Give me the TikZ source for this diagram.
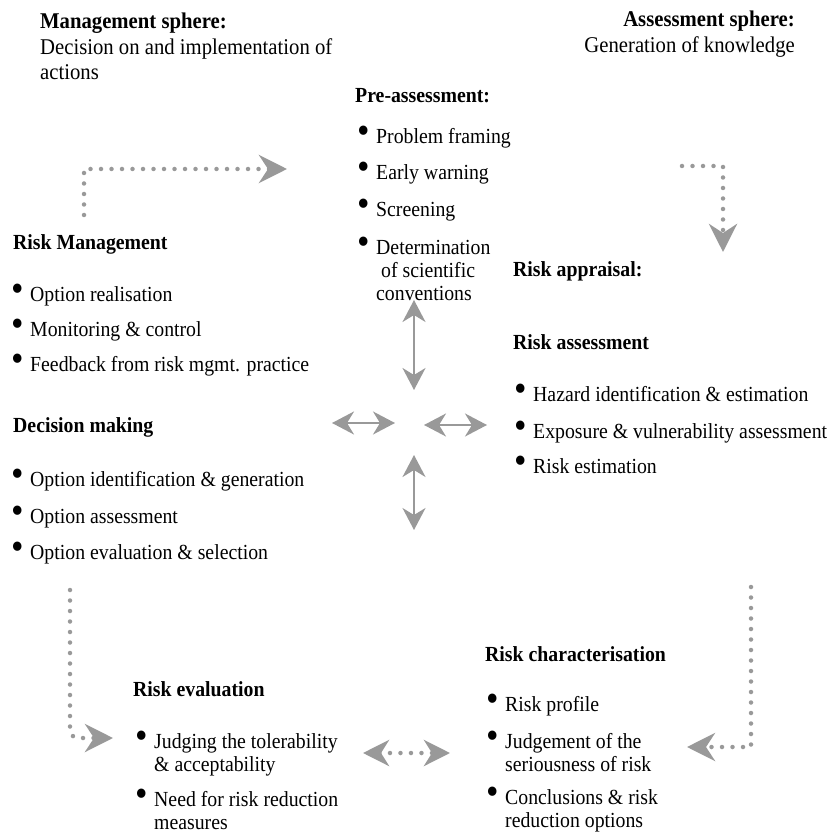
\documentclass[tikz,border=0pt]{standalone}
\usepackage{fontspec}
\setmainfont{Liberation Serif}[FakeStretch=0.92]
\usetikzlibrary{arrows.meta}

\definecolor{arrowgray}{HTML}{999999}
\newcommand{\bul}{\makebox[19pt][l]{\scalebox{1.8}{\textbullet}}}
\newcommand{\lines}[1]{\begin{tabular}[t]{@{}l@{}}#1\end{tabular}}
\newcommand{\rlines}[1]{\begin{tabular}[t]{@{}r@{}}#1\end{tabular}}

\begin{document}
\begin{tikzpicture}[
    x=1pt, y=-1pt,
    txt/.style={anchor=base west, inner sep=0pt, font=\fontsize{21.5}{23}\selectfont},
    title/.style={txt, font=\fontsize{21.5}{23}\selectfont\bfseries},
    sphere/.style={anchor=base west, inner sep=0pt, font=\fontsize{22.5}{25.5}\selectfont},
    itm/.style={txt},
    flow/.style={draw=arrowgray, line width=4.5pt, line cap=round, dash pattern=on 0pt off 10.5pt,
        -{Stealth[length=28pt, width=28pt, inset=9pt, arrowgray]}},
    flowboth/.style={flow, {Stealth[length=26pt, width=26pt, inset=8pt, arrowgray]}-{Stealth[length=26pt, width=26pt, inset=8pt, arrowgray]}},
    link/.style={draw=arrowgray, line width=2pt,
        {Stealth[length=22pt, width=23pt, inset=7pt, arrowgray]}-{Stealth[length=22pt, width=23pt, inset=7pt, arrowgray]}}
]
\useasboundingbox (0,0) rectangle (830,834);

% Spheres
\node[sphere] (mgmt) at (40,29)
    {\lines{\textbf{Management sphere:}\\Decision on and implementation of\\actions}};
\node[sphere, anchor=base east] (assess) at (795,27)
    {\rlines{\textbf{Assessment sphere:}\\Generation of knowledge}};

% Pre-assessment
\node[title] (pre) at (355,103) {Pre-assessment:};
\node[itm] (pre1) at (357,144) {\bul Problem framing};
\node[itm] (pre2) at (357,180) {\bul Early warning};
\node[itm] (pre3) at (357,217) {\bul Screening};
\node[itm] (pre4) at (357,254) {\bul\lines{Determination\\\ of scientific\\conventions}};

% Risk management
\node[title] (rm) at (13,249) {Risk Management};
\node[itm] (rm1) at (11,301) {\bul Option realisation};
\node[itm] (rm2) at (11,336) {\bul Monitoring \& control};
\node[itm] (rm3) at (11,371) {\bul Feedback from risk mgmt. practice};

% Decision making
\node[title] (dm) at (13,432) {Decision making};
\node[itm] (dm1) at (11,486) {\bul Option identification \& generation};
\node[itm] (dm2) at (11,523) {\bul Option assessment};
\node[itm] (dm3) at (11,559) {\bul Option evaluation \& selection};

% Risk appraisal
\node[title] (ra) at (513,276) {Risk appraisal:};
\node[title] (rass) at (513,349) {Risk assessment};
\node[itm] (ra1) at (514,401) {\bul Hazard identification \& estimation};
\node[itm] (ra2) at (514,438) {\bul Exposure \& vulnerability assessment};
\node[itm] (ra3) at (514,473) {\bul Risk estimation};

% Risk characterisation
\node[title] (rc) at (485,661) {Risk characterisation};
\node[itm] (rc1) at (486,711) {\bul Risk profile};
\node[itm] (rc2) at (486,748) {\bul\lines{Judgement of the\\seriousness of risk}};
\node[itm] (rc3) at (486,804) {\bul\lines{Conclusions \& risk\\reduction options}};

% Risk evaluation
\node[title] (re) at (133,696) {Risk evaluation};
\node[itm] (re1) at (135,748) {\bul\lines{Judging the tolerability\\\& acceptability}};
\node[itm] (re2) at (135,806) {\bul\lines{Need for risk reduction\\measures}};

% Arrow ends
\coordinate (a1s) at (84,215);
\coordinate (a1e) at (287,169);
\coordinate (a2s) at (682,166);
\coordinate (a2e) at (723,252);
\coordinate (a3s) at (70,590);
\coordinate (a3e) at (113,738);
\coordinate (a4s) at (363,753);
\coordinate (a4e) at (450,753);
\coordinate (a5s) at (751,587);
\coordinate (a5e) at (687,747);
\coordinate (up1) at (414,300);
\coordinate (up2) at (414,390);
\coordinate (lf1) at (332,423);
\coordinate (lf2) at (395,423);
\coordinate (rt1) at (424,425);
\coordinate (rt2) at (487,425);
\coordinate (dn1) at (414,455);
\coordinate (dn2) at (414,530);

% Cycle
\draw[flow] (a1s) |- (a1e);
\draw[flow] (a2s) -| (a2e);
\draw[flow, rounded corners=8pt] (a3s) |- (a3e);
\draw[flowboth] (a4s) -- (a4e);
\draw[flow] (a5s) |- (a5e);

% Centre
\draw[link] (up1) -- (up2);
\draw[link] (lf1) -- (lf2);
\draw[link] (rt1) -- (rt2);
\draw[link] (dn1) -- (dn2);

\end{tikzpicture}
\end{document}
